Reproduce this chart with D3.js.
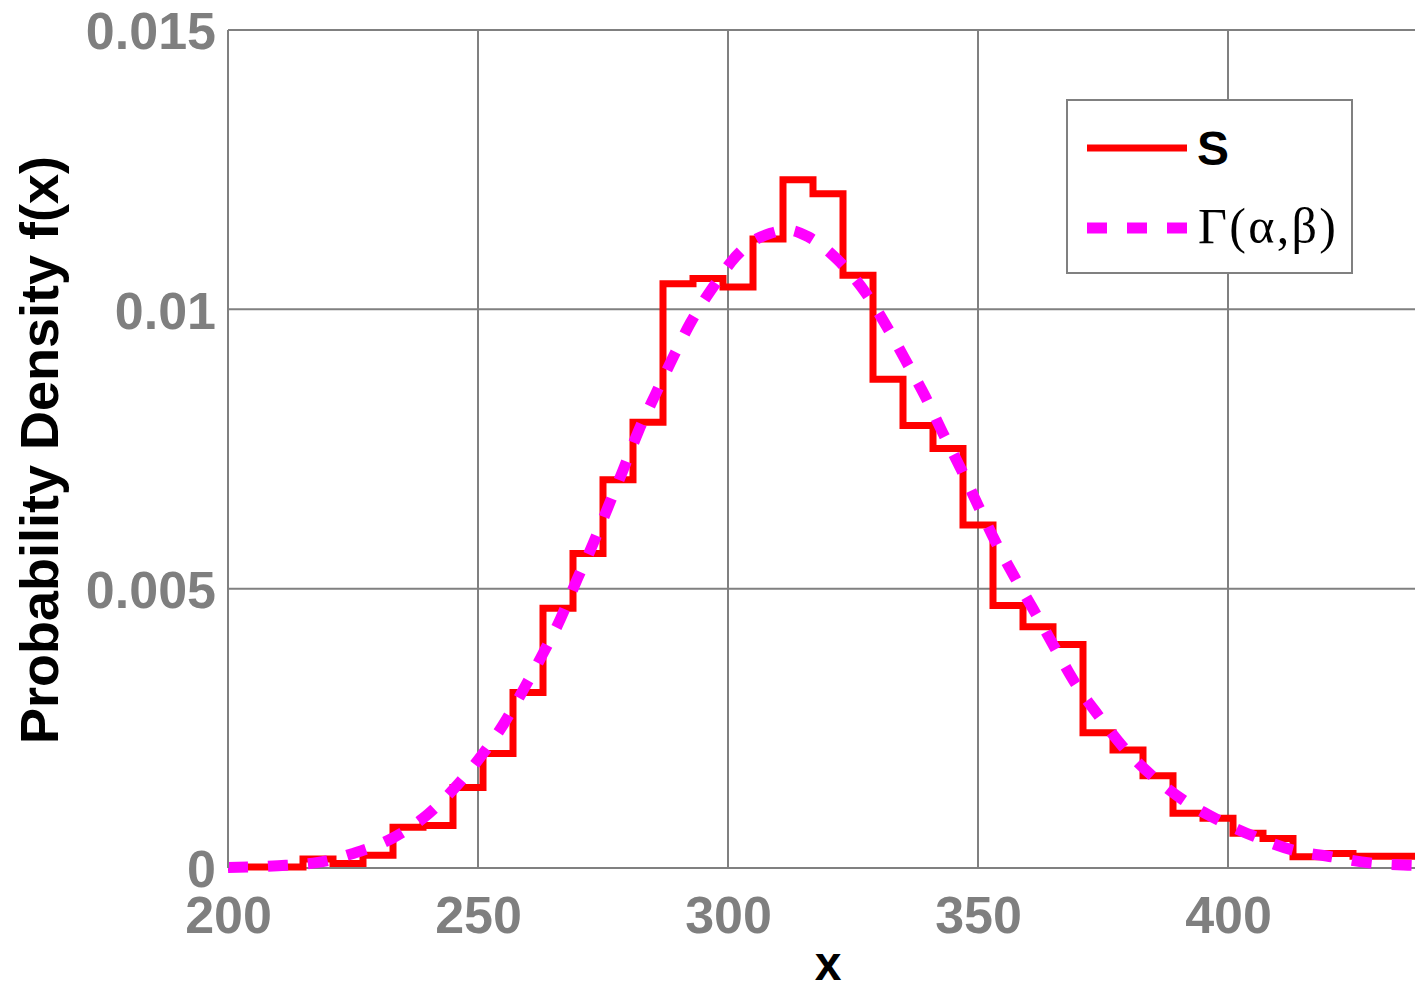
<!DOCTYPE html>
<html>
<head>
<meta charset="utf-8">
<script src="https://cdn.jsdelivr.net/npm/d3@7/dist/d3.min.js"></script>
<style>
  html, body { margin: 0; padding: 0; background: #fff; }
  svg { display: block; }
</style>
</head>
<body>
<svg id="chart" width="1415" height="991"></svg>
<script>
// ---- data ----
const binEdges = [197,203,209,215,221,227,233,239,245,251,257,263,269,275,281,287,293,299,305,311,317,323,329,335,341,347,353,359,365,371,377,383,389,395,401,407,413,419,425,431,437,443];
const binValues = [0.00001,0.00002,0.00002,0.00016,0.00008,0.00023,0.00073,0.00076,0.00144,0.00205,0.00314,0.00465,0.00563,0.00695,0.00798,0.01046,0.01055,0.0104,0.01126,0.01232,0.01207,0.01061,0.00875,0.00792,0.00751,0.00614,0.0047,0.00432,0.004,0.00242,0.00211,0.00165,0.00098,0.00089,0.00062,0.00053,0.0002,0.00026,0.00021,0.00021,0.00021];
const gammaX = [200,205,210,218,225,233,239,245,250,255,259,263,266.5,269.5,273,276,279,282,285.5,289,292.5,297.5,301.5,305,308.5,312,316,322,327.5,331.7,335.5,339.5,343,346.7,350,353.5,357.5,361.5,365.5,369.5,374,379,384.7,391,398,405.4,413,420.7,428.4,436,440];
const gammaY = [0.00001,0.00002,0.00004,0.0001,0.00026,0.00054,0.00089,0.0014,0.00193,0.00256,0.00318,0.00384,0.00446,0.0051,0.0058,0.00646,0.00712,0.0078,0.00848,0.00914,0.00976,0.01046,0.01094,0.01122,0.01136,0.01142,0.0113,0.01088,0.0103,0.0097,0.00909,0.00843,0.00778,0.00712,0.00649,0.00584,0.00518,0.00456,0.00392,0.0033,0.00274,0.00217,0.00166,0.00122,0.00086,0.00056,0.00032,0.0002,0.00009,0.00005,0.00004];
const xTicks = [200,250,300,350,400];
const yTicks = [0,0.005,0.01,0.015];
const yTickLabels = ["0","0.005","0.01","0.015"];
const seriesNames = ["S", "\u0393(\u03B1,\u03B2)"];

// ---- layout ----
const svg = d3.select("#chart");
const pL = 228, pR = 1428, pT = 30, pB = 868;
const x = d3.scaleLinear().domain([200, 440]).range([pL, pR]);
const y = d3.scaleLinear().domain([0, 0.015]).range([pB, pT]);
const gridColor = "#808080";
const tickColor = "#7f7f7f";

svg.append("defs").append("clipPath").attr("id", "clip")
  .append("rect").attr("x", pL).attr("y", 0).attr("width", pR - pL).attr("height", pB + 20);

// grid
const grid = svg.append("g");
grid.selectAll("line.v").data(xTicks).join("line")
  .attr("x1", d => x(d)).attr("x2", d => x(d)).attr("y1", pT).attr("y2", pB)
  .attr("stroke", gridColor).attr("stroke-width", 2);
grid.selectAll("line.h").data(yTicks).join("line")
  .attr("x1", pL).attr("x2", pR).attr("y1", d => y(d)).attr("y2", d => y(d))
  .attr("stroke", gridColor).attr("stroke-width", 2);

// axes via d3
const xAxis = d3.axisBottom(x).tickValues(xTicks).tickSize(0).tickPadding(0).tickFormat(d3.format("d"));
const gx = svg.append("g").attr("transform", `translate(0,${pB})`).call(xAxis);
gx.select(".domain").remove();
gx.selectAll("text").attr("fill", tickColor).attr("font-family", "'Liberation Sans', Arial, sans-serif")
  .attr("font-weight", "bold").attr("font-size", 52).attr("dy", null).attr("y", 65);

const yAxis = d3.axisLeft(y).tickValues(yTicks).tickSize(0).tickPadding(0).tickFormat((d, i) => yTickLabels[i]);
const gy = svg.append("g").attr("transform", `translate(${pL},0)`).call(yAxis);
gy.select(".domain").remove();
gy.selectAll("text").attr("fill", tickColor).attr("font-family", "'Liberation Sans', Arial, sans-serif")
  .attr("font-weight", "bold").attr("font-size", 52).attr("x", -12).attr("dy", "0.36em");

// plot data
const plot = svg.append("g").attr("clip-path", "url(#clip)");
const stepPts = binValues.map((v, i) => [binEdges[i], v]);
stepPts.push([binEdges[binEdges.length - 1], binValues[binValues.length - 1]]);
const stepLine = d3.line().x(d => x(d[0])).y(d => y(d[1])).curve(d3.curveStepAfter);
plot.append("path").attr("d", stepLine(stepPts))
  .attr("fill", "none").attr("stroke", "#ff0000").attr("stroke-width", 7).attr("stroke-linejoin", "miter");

const gLine = d3.line().x((d, i) => x(gammaX[i])).y(d => y(d)).curve(d3.curveMonotoneX);
plot.append("path").attr("d", gLine(gammaY))
  .attr("fill", "none").attr("stroke", "#ff00ff").attr("stroke-width", 11)
  .attr("stroke-dasharray", "20,20");

svg.append("line").attr("x1", pL).attr("x2", pL).attr("y1", pT).attr("y2", pB).attr("stroke", gridColor).attr("stroke-width", 2);

// axis labels
svg.append("text").attr("x", x(320)).attr("y", 980).attr("text-anchor", "middle")
  .attr("font-family", "'Liberation Sans', Arial, sans-serif").attr("font-weight", "bold").attr("font-size", 48)
  .attr("fill", "#000").text("x");
svg.append("text").attr("transform", `translate(58,450) rotate(-90)`).attr("text-anchor", "middle")
  .attr("font-family", "'Liberation Sans', Arial, sans-serif").attr("font-weight", "bold").attr("font-size", 54)
  .attr("fill", "#000").text("Probability Density f(x)");

// legend
const lg = svg.append("g");
lg.append("rect").attr("x", 1067).attr("y", 100).attr("width", 285).attr("height", 173)
  .attr("fill", "#fff").attr("stroke", gridColor).attr("stroke-width", 2);
lg.append("line").attr("x1", 1087).attr("x2", 1187).attr("y1", 148).attr("y2", 148)
  .attr("stroke", "#ff0000").attr("stroke-width", 7);
lg.append("line").attr("x1", 1087).attr("x2", 1187).attr("y1", 228).attr("y2", 228)
  .attr("stroke", "#ff00ff").attr("stroke-width", 11).attr("stroke-dasharray", "20,20");
lg.append("text").attr("x", 1197).attr("y", 165)
  .attr("font-family", "'Liberation Sans', Arial, sans-serif").attr("font-weight", "bold").attr("font-size", 48)
  .attr("fill", "#000").text(seriesNames[0]);
lg.append("text").attr("x", 1198).attr("y", 243)
  .attr("font-family", "'Liberation Serif', 'Times New Roman', serif").attr("font-size", 50)
  .attr("textLength", 138).attr("lengthAdjust", "spacing")
  .attr("fill", "#000").text(seriesNames[1]);
</script>
</body>
</html>
